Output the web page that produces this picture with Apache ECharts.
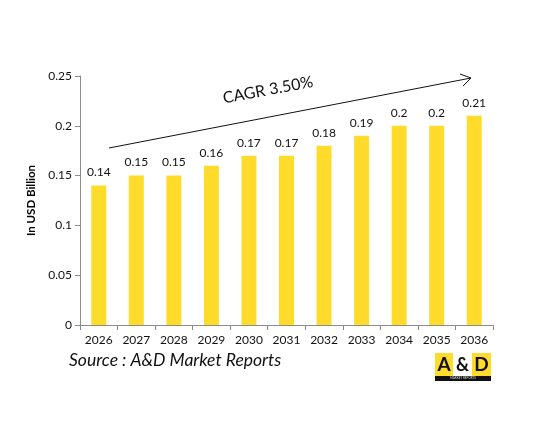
<!DOCTYPE html>
<html lang="en">
<head>
    <meta charset="UTF-8">
    <title>Market chart</title>
    <script src="https://cdn.jsdelivr.net/npm/echarts@6/dist/echarts.min.js"></script>
</head>
<style>
    *{
        margin: 0;
        padding: 0;
    }
    html , body{
        width: 100%;
        height: 100%;
        overflow: hidden;
        background: #fff;
    }
    .container{
        width: 542px;
        height: 437px;
    }
</style>
<body>
<div class="container"></div>
<script>
    let years=['2026','2027','2028','2029','2030','2031','2032','2033','2034','2035','2036'];
    let values=[0.14,0.15,0.15,0.16,0.17,0.17,0.18,0.19,0.2,0.2,0.21];
    let yTicks=[0,0.05,0.1,0.15,0.2,0.25];

    let font='Lato, "Open Sans", sans-serif';
    let container=document.querySelector('.container');
    let mycharts=echarts.init(container);

    let option={
        animation:false,
        grid:{left:80,right:49,top:76,bottom:112},
        xAxis:{
            type:'category',
            data:years,
            axisLine:{lineStyle:{color:'#8c8c8c'}},
            axisTick:{show:true,alignWithLabel:false,length:5,lineStyle:{color:'#8c8c8c'}},
            axisLabel:{color:'#111',fontSize:12,fontFamily:font,margin:9}
        },
        yAxis:{
            type:'value',
            min:yTicks[0],
            max:yTicks[yTicks.length-1],
            interval:0.05,
            name:'In USD Billion',
            nameLocation:'middle',
            nameGap:42,
            nameTextStyle:{color:'#000',fontSize:11.5,fontWeight:'bold',fontFamily:font},
            axisLine:{show:true,lineStyle:{color:'#8c8c8c'}},
            axisTick:{show:true,length:5,lineStyle:{color:'#8c8c8c'}},
            splitLine:{show:false},
            axisLabel:{color:'#111',fontSize:12,fontFamily:font,margin:8,
                formatter:v=>String(+v.toFixed(2))}
        },
        series:[{
            type:'bar',
            data:values,
            barWidth:15,
            itemStyle:{color:'#FFDC2C'},
            label:{show:true,position:'top',distance:7,color:'#111',fontSize:12,fontFamily:font}
        }],
        graphic:[
            {
                type:'line',
                shape:{x1:109,y1:148,x2:471,y2:78},
                style:{stroke:'#111',lineWidth:1}
            },
            {
                type:'polyline',
                shape:{points:[[460,74],[471,78],[463,86]]},
                style:{stroke:'#111',lineWidth:1,fill:null}
            },
            {
                type:'text',
                x:268,y:90,
                rotation:10.5*Math.PI/180,
                style:{text:'CAGR 3.50%',fill:'#111',font:'16px '+font,align:'center',verticalAlign:'middle'}
            },
            {
                type:'text',
                left:69,top:351,
                style:{text:'Source : A&D Market Reports',fill:'#111',font:'italic 17.5px '+font}
            },
            {type:'rect',shape:{x:435,y:353,width:18,height:23},style:{fill:'#FFDC2C'}},
            {type:'rect',shape:{x:453,y:353,width:19,height:23},style:{fill:'#fff'}},
            {type:'rect',shape:{x:472,y:353,width:19,height:23},style:{fill:'#FFDC2C'}},
            {type:'rect',shape:{x:435,y:376,width:56,height:5},style:{fill:'#111'}},
            {type:'text',x:444,y:365,style:{text:'A',fill:'#111',font:'bold 19px '+font,align:'center',verticalAlign:'middle'}},
            {type:'text',x:462.5,y:365,style:{text:'&',fill:'#111',font:'bold 18px '+font,align:'center',verticalAlign:'middle'}},
            {type:'text',x:481.5,y:365,style:{text:'D',fill:'#111',font:'bold 19px '+font,align:'center',verticalAlign:'middle'}},
            {type:'text',x:463,y:378.5,style:{text:'MARKET REPORTS',fill:'#ddd',font:'3px '+font,align:'center',verticalAlign:'middle'}}
        ]
    };
    mycharts.setOption(option);
</script>
</body>
</html>
